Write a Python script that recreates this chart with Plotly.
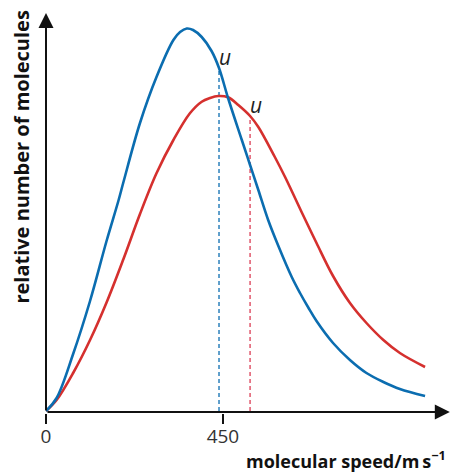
import numpy as np
import plotly.graph_objects as go

# ---- data (speed in m/s, relative number in arbitrary units) ----
blue_speed = [0, 27, 69, 112, 154, 184, 197, 239, 281, 324, 341, 358, 374, 396, 421, 440,
              463, 498, 519, 540, 565, 591, 625, 646, 667, 688, 730, 773, 815, 858, 900, 964]
blue_rel = [0, 13, 57, 110, 170, 210, 229, 288, 334, 371, 379, 382.5, 381, 374, 360, 343,
            313, 271, 246, 221, 191, 165, 134, 118, 103.5, 90, 68, 51, 38, 29, 22, 15]

red_speed = [0, 27, 69, 112, 154, 197, 239, 281, 324, 366, 396, 417, 438, 463, 489,
             519, 540, 582, 608, 625, 650, 688, 730, 773, 815, 858, 900, 964]
red_rel = [0, 11, 38, 71, 108.5, 152, 197, 237.7, 271, 297.7, 309.3, 313, 315, 313.7, 306,
           295, 284, 254, 234, 220, 199, 168, 135, 108, 88, 71, 58, 44]

u_blue = 440   # mean speed, blue distribution
u_red = 519    # mean speed, red distribution
u_labels = ["u", "u"]

tick_vals = [0, 450]
tick_text = ["0", "450"]
x_title = "molecular speed/m\u2009s<sup>\u22121</sup>"
y_title = "relative number of molecules"

BLUE = "#0b6db0"
RED = "#d5302e"
RED_DASH = "#dc3d55"
BLACK = "#111111"

fig = go.Figure()

# dashed verticals at u
hb = float(np.interp(u_blue, blue_speed, blue_rel))
hr = float(np.interp(u_red, red_speed, red_rel))
fig.add_trace(go.Scatter(x=[u_blue, u_blue], y=[0, hb], mode="lines",
                         line=dict(color=BLUE, width=1.3, dash="4px,3px"), hoverinfo="skip"))
fig.add_trace(go.Scatter(x=[u_red, u_red], y=[0, hr], mode="lines",
                         line=dict(color=RED_DASH, width=1.3, dash="4px,3px"), hoverinfo="skip"))

fig.add_trace(go.Scatter(x=red_speed, y=red_rel, mode="lines",
                         line=dict(color=RED, width=2.6, shape="spline", smoothing=1.0)))
fig.add_trace(go.Scatter(x=blue_speed, y=blue_rel, mode="lines",
                         line=dict(color=BLUE, width=2.6, shape="spline", smoothing=1.0)))

# axes with arrows
fig.add_annotation(x=1027, y=-1, ax=0, ay=-1, xref="x", yref="y", axref="x", ayref="y",
                   showarrow=True, arrowhead=2, arrowsize=1.5, arrowwidth=2, arrowcolor=BLACK, text="")
fig.add_annotation(x=0, y=398, ax=0, ay=-1, xref="x", yref="y", axref="x", ayref="y",
                   showarrow=True, arrowhead=2, arrowsize=1.5, arrowwidth=2, arrowcolor=BLACK, text="")

# u labels
fig.add_annotation(x=u_blue + 15, y=hb + 11, xref="x", yref="y", text=u_labels[0], showarrow=False,
                   font=dict(family="Open Sans", size=21, color="#222222", style="italic"))
fig.add_annotation(x=u_red + 15, y=hr + 11, xref="x", yref="y", text=u_labels[1], showarrow=False,
                   font=dict(family="Open Sans", size=21, color="#222222", style="italic"))

# axis titles
fig.add_annotation(x=0.993, y=-0.118, xref="paper", yref="paper", xanchor="right", yanchor="middle",
                   text="<b>" + x_title + "</b>", showarrow=False,
                   font=dict(family="Open Sans", size=18, color=BLACK))
fig.add_annotation(x=-0.0605, y=0.639, xref="paper", yref="paper", xanchor="center", yanchor="middle",
                   text="<b>" + y_title + "</b>", textangle=-90, showarrow=False,
                   font=dict(family="Open Sans", size=20, color=BLACK))

fig.update_layout(
    width=451, height=472,
    margin=dict(l=46, r=0, t=11, b=59),
    paper_bgcolor="white", plot_bgcolor="white",
    showlegend=False,
    xaxis=dict(range=[0, 1030], showgrid=False, zeroline=False, showline=False,
               tickvals=tick_vals, ticktext=tick_text, ticks="outside", ticklen=10,
               tickwidth=1.5, tickcolor=BLACK, ticklabelstandoff=-4,
               tickfont=dict(family="Open Sans", size=19, color="#333333")),
    yaxis=dict(range=[-2, 400], visible=False),
)

fig.write_html("out.html", config={"displayModeBar": False},
               post_script="document.body.style.margin='0';")
